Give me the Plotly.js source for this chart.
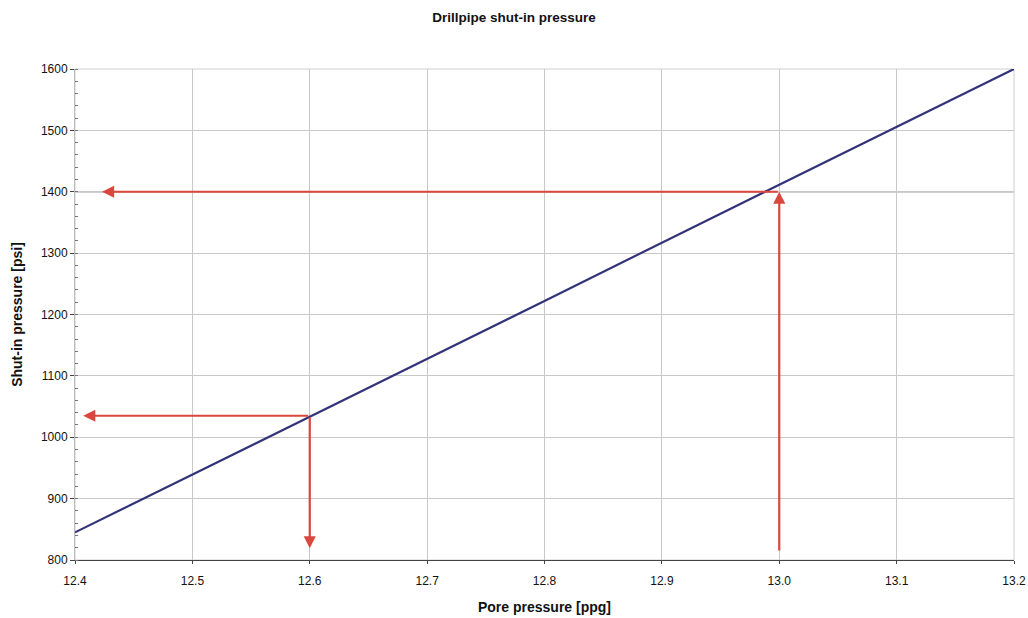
<!DOCTYPE html>
<html>
<head>
<meta charset="utf-8">
<script src="https://cdn.plot.ly/plotly-3.0.1.min.js"></script>
<style>html,body{margin:0;padding:0;background:#fff;}#chart{width:1028px;height:618px;}</style>
</head>
<body>
<div id="chart"></div>
<script>
// Pore pressure [ppg] vs drillpipe shut-in pressure [psi]
const porePressure = [12.4, 12.5, 12.6, 12.7, 12.8, 12.9, 13.0, 13.1, 13.2];
const shutInPressure = [845, 939, 1034, 1128, 1222, 1317, 1411, 1505, 1600];

// Reading arrows: [fromX, fromY, toX, toY]
const arrowFromX = [13.0, 13.0, 12.6, 12.6];
const arrowFromY = [813, 1400, 1035, 1035];
const arrowToX = [13.0, 12.423, 12.407, 12.6];
const arrowToY = [1400, 1400, 1035, 819];

const xTicks = [12.4, 12.5, 12.6, 12.7, 12.8, 12.9, 13.0, 13.1, 13.2];
const xTickLabels = ['12.4', '12.5', '12.6', '12.7', '12.8', '12.9', '13.0', '13.1', '13.2'];
const yTicks = [800, 900, 1000, 1100, 1200, 1300, 1400, 1500, 1600];

const red = '#d9473f';
const annotations = arrowFromX.map((fx, i) => ({
  x: arrowToX[i], y: arrowToY[i], xref: 'x', yref: 'y',
  ax: fx, ay: arrowFromY[i], axref: 'x', ayref: 'y',
  showarrow: true, arrowhead: 2, arrowsize: 1.1, arrowwidth: 2.2,
  arrowcolor: red, text: '', standoff: 0, startstandoff: 0
}));

const darkLines = [1200, 1400].map(v => ({
  type: 'line', xref: 'paper', yref: 'y', x0: 0, x1: 1, y0: v, y1: v,
  line: {color: '#444', width: 1}, layer: 'below'
}));

const data = [{
  x: porePressure, y: shutInPressure, type: 'scatter', mode: 'lines',
  line: {color: '#33337a', width: 2.2}, hoverinfo: 'x+y'
}];

const font = "'Liberation Sans', Arial, sans-serif";
const layout = {
  width: 1028, height: 618,
  margin: {l: 75, r: 14, t: 69, b: 58},
  paper_bgcolor: '#ffffff', plot_bgcolor: '#ffffff',
  showlegend: false,
  font: {family: font, color: '#111', size: 12},
  title: {text: '<b>Drillpipe shut-in pressure</b>', x: 0.5, xanchor: 'center', y: 0.972, yanchor: 'middle',
          font: {family: font, size: 13.5, color: '#111'}},
  xaxis: {
    range: [12.4, 13.2], tickvals: xTicks, ticktext: xTickLabels,
    showgrid: true, gridcolor: '#c8c8c8', gridwidth: 1,
    zeroline: false, showline: true, linecolor: '#444', linewidth: 1, mirror: false,
    ticks: 'outside', ticklen: 3, tickcolor: '#444', ticklabelstandoff: 7,
    tickfont: {size: 12, family: font},
    title: {text: '<b>Pore pressure [ppg]</b>', font: {size: 14, family: font}, standoff: 14}
  },
  yaxis: {
    range: [800, 1600], tickvals: yTicks,
    showgrid: true, gridcolor: '#c8c8c8', gridwidth: 1,
    zeroline: false, showline: true, linecolor: '#bbb', linewidth: 1,
    ticks: 'outside', ticklen: 4, tickcolor: '#444',
    minor: {dtick: 20, ticks: 'inside', ticklen: 3, tickcolor: '#777', showgrid: false},
    tickfont: {size: 12, family: font},
    title: {text: '<b>Shut-in pressure [psi]</b>', font: {size: 14, family: font}, standoff: 14}
  },
  shapes: darkLines.concat([{
    type: 'rect', xref: 'paper', yref: 'paper', x0: 0, x1: 1, y0: 0, y1: 1,
    line: {color: '#cfcfcf', width: 1}, layer: 'below'
  }]),
  annotations: annotations
};

Plotly.newPlot('chart', data, layout, {displayModeBar: false, staticPlot: true});
</script>
</body>
</html>
